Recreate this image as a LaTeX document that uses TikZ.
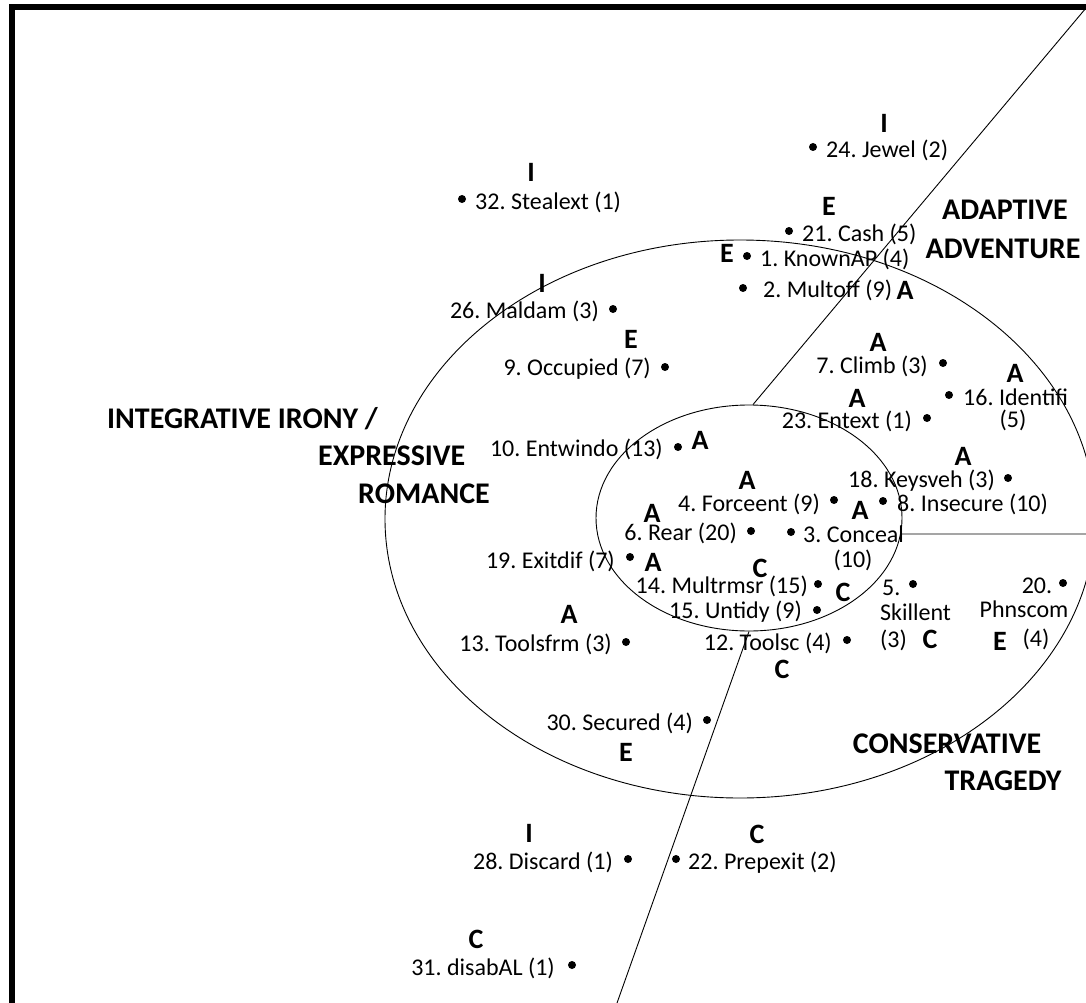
\documentclass[tikz,border=0pt]{standalone}
\usepackage{fontspec}
\setmainfont{Carlito}
\usetikzlibrary{shapes.geometric}
\frenchspacing

\tikzset{
  dot/.style={circle,fill=black,inner sep=0pt,minimum size=8pt},
  lbl/.style={inner sep=0pt,font=\fontsize{24}{26}\selectfont},
  cat/.style={inner sep=0pt,font=\fontsize{28}{30}\selectfont\bfseries},
  region/.style={inner sep=0pt,font=\fontsize{30}{32}\selectfont\bfseries},
  ring/.style={ellipse,draw,line width=0.9pt,inner sep=0pt},
  divider/.style={line width=0.9pt}
}

\begin{document}
\begin{tikzpicture}[x=1pt,y=-1pt]
\useasboundingbox (0,0) rectangle (1086,1003);
\draw [line width=6pt] (12,1003) |- (1086,7.5);

\node [ring,minimum width=710,minimum height=558] (outer) at (740,519) {};
\node [ring,minimum width=306,minimum height=226] (inner) at (749,518) {};
\coordinate (ne) at (1086,8);
\coordinate (eastend) at (1086,534);
\coordinate (send) at (617,1003);
\draw [divider] (inner.88) -- (ne);
\draw [divider] (inner.-6.5) -- (eastend);
\draw [divider] (inner.south) -- (send);

\node [region,anchor=base] (adapt1) at (1005,219) {ADAPTIVE};
\node [region,anchor=base] (adapt2) at (1003,258) {ADVENTURE};
\node [region,anchor=base west] (integ1) at (107,428) {INTEGRATIVE IRONY /};
\node [region,anchor=base west] (integ2) at (318,465) {EXPRESSIVE};
\node [region,anchor=base west] (integ3) at (358,503) {ROMANCE};
\node [region,anchor=base] (cons1) at (947,753) {CONSERVATIVE};
\node [region,anchor=base] (cons2) at (1003,790) {TRAGEDY};

\node [dot] (p24) at (813,147) {};
\node [lbl,anchor=base west] (t24) at (826,158) {24. Jewel (2)};
\node [cat,anchor=base] (c24) at (884,133) {I};

\node [dot] (p32) at (462,199) {};
\node [lbl,anchor=base west] (t32) at (475,209) {32. Stealext (1)};
\node [cat,anchor=base] (c32) at (531,182) {I};

\node [dot] (p21) at (789,231) {};
\node [lbl,anchor=base west] (t21) at (802,241) {21. Cash (5)};
\node [cat,anchor=base] (c21) at (829,215) {E};

\node [dot] (p1) at (747,256) {};
\node [lbl,anchor=base west] (t1) at (760,266) {1. KnownAP (4)};
\node [cat,anchor=base] (c1) at (727,262) {E};

\node [dot] (p2) at (743,288) {};
\node [lbl,anchor=base west] (t2) at (763,297) {2. Multoff (9)};
\node [cat,anchor=base] (c2) at (905,299) {A};

\node [dot] (p26) at (613,309) {};
\node [lbl,anchor=base east] (t26) at (599,318) {26. Maldam (3)};
\node [cat,anchor=base] (c26) at (542,292) {I};

\node [dot] (p9) at (665,367) {};
\node [lbl,anchor=base east] (t9) at (651,375) {9. Occupied (7)};
\node [cat,anchor=base] (c9) at (631,348) {E};

\node [dot] (p7) at (943,363) {};
\node [lbl,anchor=base east] (t7) at (928,373) {7. Climb (3)};
\node [cat,anchor=base] (c7) at (878,351) {A};

\node [dot] (p16) at (949,395) {};
\node [lbl,anchor=base west] (t16) at (963,405) {16. Identifi};
\node [lbl,anchor=base] (t16b) at (1013,427) {(5)};
\node [cat,anchor=base] (c16) at (1015,382) {A};

\node [dot] (p23) at (927,418) {};
\node [lbl,anchor=base east] (t23) at (912,428) {23. Entext (1)};
\node [cat,anchor=base] (c23) at (857,407) {A};

\node [dot] (p10) at (678,447) {};
\node [lbl,anchor=base east] (t10) at (663,456) {10. Entwindo (13)};
\node [cat,anchor=base] (c10) at (700,449) {A};

\node [dot] (p18) at (1008,478) {};
\node [lbl,anchor=base east] (t18) at (995,487) {18. Keysveh (3)};
\node [cat,anchor=base] (c18) at (963,465) {A};

\node [dot] (p4) at (834,500) {};
\node [lbl,anchor=base east] (t4) at (820,511) {4. Forceent (9)};
\node [cat,anchor=base] (c4) at (747,489) {A};

\node [dot] (p8) at (883,501) {};
\node [lbl,anchor=base west] (t8) at (897,511) {8. Insecure (10)};
\node [cat,anchor=base] (c8) at (860,519) {A};

\node [dot] (p6) at (751,531) {};
\node [lbl,anchor=base east] (t6) at (737,540) {6. Rear (20)};
\node [cat,anchor=base] (c6) at (652,522) {A};

\node [dot] (p3) at (791,532) {};
\node [lbl,anchor=base west] (t3) at (803,542) {3. Conceal};
\node [lbl,anchor=base] (t3b) at (853,567) {(10)};

\node [dot] (p19) at (630,557) {};
\node [lbl,anchor=base east] (t19) at (615,568) {19. Exitdif (7)};
\node [cat,anchor=base] (c19) at (653,571) {A};

\node [dot] (p14) at (818,584) {};
\node [lbl,anchor=base east] (t14) at (808,593) {14. Multrmsr (15)};
\node [cat,anchor=base] (c14) at (760,577) {C};
\node [cat,anchor=base] (c15) at (843,601) {C};

\node [dot] (p15) at (817,610) {};
\node [lbl,anchor=base east] (t15) at (802,618) {15. Untidy (9)};

\node [dot] (p5) at (913,584) {};
\node [lbl,anchor=base west] (t5) at (882,595) {5.};
\node [lbl,anchor=base west] (t5b) at (880,620) {Skillent};
\node [lbl,anchor=base west] (t5c) at (880,647) {(3)};
\node [cat,anchor=base] (c5) at (930,648) {C};

\node [dot] (p20) at (1063,583) {};
\node [lbl,anchor=base] (t20) at (1037,593) {20.};
\node [lbl,anchor=base] (t20b) at (1024,617) {Phnscom};
\node [lbl,anchor=base] (t20c) at (1036,646) {(4)};
\node [cat,anchor=base] (c20) at (1000,650) {E};

\node [dot] (p13) at (626,642) {};
\node [lbl,anchor=base east] (t13) at (612,651) {13. Toolsfrm (3)};
\node [cat,anchor=base] (c13) at (569,623) {A};

\node [dot] (p12) at (847,640) {};
\node [lbl,anchor=base east] (t12) at (832,650) {12. Toolsc (4)};
\node [cat,anchor=base] (c12) at (782,678) {C};

\node [dot] (p30) at (707,720) {};
\node [lbl,anchor=base east] (t30) at (693,730) {30. Secured (4)};
\node [cat,anchor=base] (c30) at (626,761) {E};

\node [dot] (p28) at (628,859) {};
\node [lbl,anchor=base east] (t28) at (613,869) {28. Discard (1)};
\node [cat,anchor=base] (c28) at (529,842) {I};

\node [dot] (p22) at (676,859) {};
\node [lbl,anchor=base west] (t22) at (688,869) {22. Prepexit (2)};
\node [cat,anchor=base] (c22) at (757,843) {C};

\node [dot] (p31) at (572,965) {};
\node [lbl,anchor=base east] (t31) at (555,975) {31. disabAL (1)};
\node [cat,anchor=base] (c31) at (476,948) {C};
\end{tikzpicture}
\end{document}
